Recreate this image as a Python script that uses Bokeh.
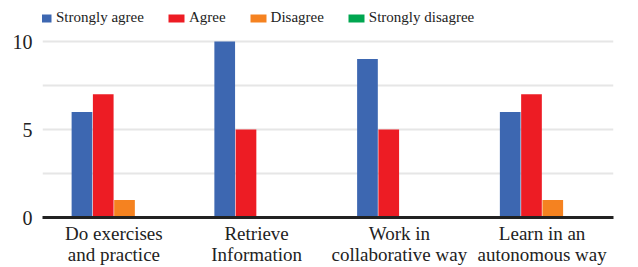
from bokeh.plotting import figure
from bokeh.models import ColumnDataSource, FixedTicker, Legend, LegendItem
from bokeh.transform import dodge
from bokeh.embed import file_html
from bokeh.resources import INLINE

categories = ["Do exercises\nand practice", "Retrieve\nInformation",
              "Work in\ncollaborative way", "Learn in an\nautonomous way"]
strongly_agree = [6, 10, 9, 6]
agree = [7, 5, 5, 7]
disagree = [1, 0, 0, 1]
strongly_disagree = [0, 0, 0, 0]

series_names = ["Strongly agree", "Agree", "Disagree", "Strongly disagree"]
series_keys = ["sa", "a", "d", "sd"]
colors = ["#3d67b1", "#ed1c24", "#f58220", "#00a650"]

source = ColumnDataSource(data=dict(cat=categories, sa=strongly_agree, a=agree,
                                    d=disagree, sd=strongly_disagree))

FONT = "Liberation Serif"

p = figure(x_range=categories, y_range=(0, 12.33), width=638, height=267,
           output_backend="svg", toolbar_location=None,
           min_border_left=42, min_border_right=25, min_border_top=0,
           min_border_bottom=50)
p.outline_line_color = None

spacing = 0.149
offsets = [-1.5 * spacing, -0.5 * spacing, 0.5 * spacing, 1.5 * spacing]
items = []
for key, name, col, off in zip(series_keys, series_names, colors, offsets):
    r = p.vbar(x=dodge("cat", off, range=p.x_range), top=key, width=0.145,
               source=source, fill_color=col, line_color=None)
    items.append(LegendItem(label=name, renderers=[r]))

legend = Legend(items=items, orientation="horizontal", location=(-9, 191),
                glyph_width=20, glyph_height=10,
                label_text_font=FONT,
                label_text_font_size="15px", label_text_color="#222",
                spacing=22, padding=0, margin=0, label_standoff=3,
                border_line_color=None, background_fill_alpha=0,
                label_height=14)
p.add_layout(legend)

p.xgrid.grid_line_color = None
p.ygrid.ticker = FixedTicker(ticks=[0, 2.5, 5, 7.5, 10])
p.ygrid.grid_line_color = "#e6e6e6"
p.ygrid.grid_line_width = 2

p.yaxis.ticker = FixedTicker(ticks=[0, 5, 10])
p.yaxis.axis_line_color = None
p.yaxis.major_tick_line_color = None
p.yaxis.minor_tick_line_color = None
p.yaxis.major_label_text_font = FONT
p.yaxis.major_label_text_font_size = "20px"
p.yaxis.major_label_text_color = "#222"
p.yaxis.major_label_standoff = 4

p.xaxis.axis_line_color = "#222"
p.xaxis.axis_line_width = 3
p.xaxis.major_tick_line_color = None
p.xaxis.minor_tick_line_color = None
p.xaxis.major_tick_out = 0
p.xaxis.major_label_text_font = FONT
p.xaxis.major_label_text_font_size = "19px"
p.xaxis.major_label_text_line_height = 1.0
p.xaxis.major_label_text_color = "#222"
p.xaxis.major_label_standoff = 5
p.x_range.range_padding = 0

open("out.html", "w").write(file_html(p, INLINE))
